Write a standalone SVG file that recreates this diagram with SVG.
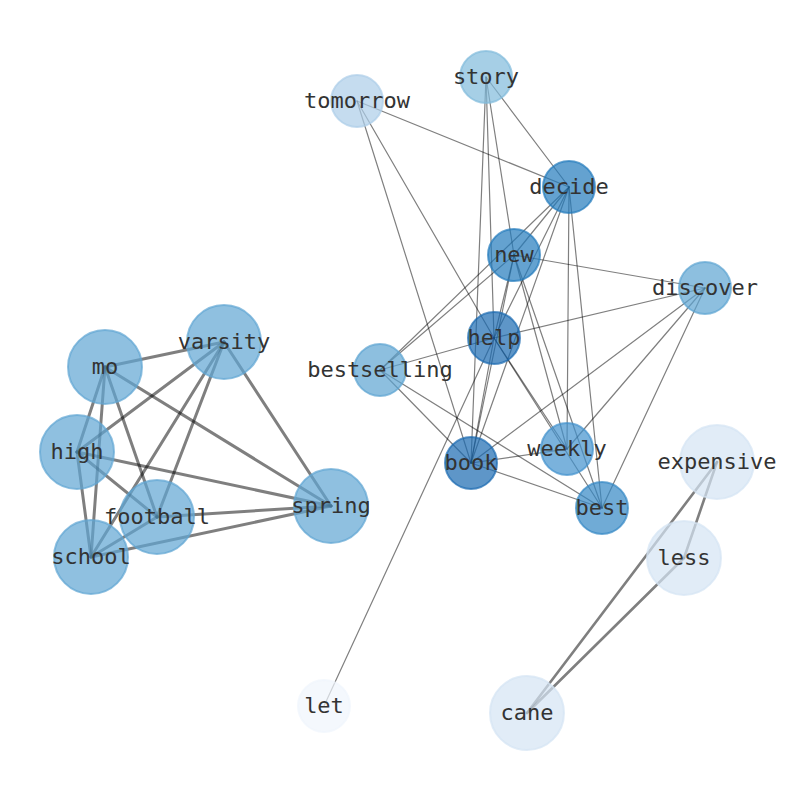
<svg xmlns="http://www.w3.org/2000/svg" width="794" height="790" viewBox="0 0 794 790">
<style>
.e{stroke:#000;stroke-opacity:0.5;fill:none;stroke-linecap:round}
.t{stroke-width:1.2}
.k{stroke-width:3}
.m{stroke-width:2.6}
.n{fill-opacity:0.7;stroke-opacity:0.7;stroke-width:2}
.l{font-family:"DejaVu Sans Mono","Liberation Mono",monospace;font-size:22px;fill:#333;text-anchor:middle}
</style>
<rect width="794" height="790" fill="#fff"/>
<g id="connectors">
<line class="e k" x1="105" y1="367" x2="224" y2="342"/>
<line class="e k" x1="105" y1="367" x2="77" y2="452"/>
<line class="e k" x1="105" y1="367" x2="157" y2="517"/>
<line class="e k" x1="105" y1="367" x2="91" y2="557"/>
<line class="e k" x1="105" y1="367" x2="331" y2="506"/>
<line class="e k" x1="224" y1="342" x2="77" y2="452"/>
<line class="e k" x1="224" y1="342" x2="157" y2="517"/>
<line class="e k" x1="224" y1="342" x2="91" y2="557"/>
<line class="e k" x1="224" y1="342" x2="331" y2="506"/>
<line class="e k" x1="77" y1="452" x2="157" y2="517"/>
<line class="e k" x1="77" y1="452" x2="91" y2="557"/>
<line class="e k" x1="77" y1="452" x2="331" y2="506"/>
<line class="e k" x1="157" y1="517" x2="91" y2="557"/>
<line class="e k" x1="157" y1="517" x2="331" y2="506"/>
<line class="e k" x1="91" y1="557" x2="331" y2="506"/>
<line class="e m" x1="717" y1="462" x2="684" y2="558"/>
<line class="e m" x1="717" y1="462" x2="527" y2="713"/>
<line class="e m" x1="684" y1="558" x2="527" y2="713"/>
<line class="e t" x1="357" y1="101" x2="569" y2="187"/>
<line class="e t" x1="357" y1="101" x2="494" y2="338"/>
<line class="e t" x1="357" y1="101" x2="471" y2="463"/>
<line class="e t" x1="486" y1="77" x2="569" y2="187"/>
<line class="e t" x1="486" y1="77" x2="514" y2="255"/>
<line class="e t" x1="486" y1="77" x2="494" y2="338"/>
<line class="e t" x1="486" y1="77" x2="471" y2="463"/>
<line class="e t" x1="569" y1="187" x2="514" y2="255"/>
<line class="e t" x1="569" y1="187" x2="380" y2="370"/>
<line class="e t" x1="569" y1="187" x2="494" y2="338"/>
<line class="e t" x1="569" y1="187" x2="471" y2="463"/>
<line class="e t" x1="569" y1="187" x2="567" y2="449"/>
<line class="e t" x1="569" y1="187" x2="602" y2="508"/>
<line class="e t" x1="514" y1="255" x2="705" y2="288"/>
<line class="e t" x1="514" y1="255" x2="380" y2="370"/>
<line class="e t" x1="514" y1="255" x2="494" y2="338"/>
<line class="e t" x1="514" y1="255" x2="471" y2="463"/>
<line class="e t" x1="514" y1="255" x2="567" y2="449"/>
<line class="e t" x1="514" y1="255" x2="602" y2="508"/>
<line class="e t" x1="705" y1="288" x2="494" y2="338"/>
<line class="e t" x1="705" y1="288" x2="471" y2="463"/>
<line class="e t" x1="705" y1="288" x2="567" y2="449"/>
<line class="e t" x1="705" y1="288" x2="602" y2="508"/>
<line class="e t" x1="494" y1="338" x2="380" y2="370"/>
<line class="e t" x1="494" y1="338" x2="471" y2="463"/>
<line class="e t" x1="494" y1="338" x2="567" y2="449"/>
<line class="e t" x1="494" y1="338" x2="602" y2="508"/>
<line class="e t" x1="494" y1="338" x2="324" y2="706"/>
<line class="e t" x1="380" y1="370" x2="471" y2="463"/>
<line class="e t" x1="380" y1="370" x2="602" y2="508"/>
<line class="e t" x1="471" y1="463" x2="567" y2="449"/>
<line class="e t" x1="471" y1="463" x2="602" y2="508"/>
</g>
<g id="node-tomorrow"><circle class="n" cx="357" cy="101" r="26" fill="#accde8" stroke="#accde8"/><text class="l" x="357" y="108">tomorrow</text></g>
<g id="node-story"><circle class="n" cx="486" cy="77" r="26" fill="#80badb" stroke="#80badb"/><text class="l" x="486" y="84">story</text></g>
<g id="node-decide"><circle class="n" cx="569" cy="187" r="26" fill="#227abc" stroke="#227abc"/><text class="l" x="569" y="194">decide</text></g>
<g id="node-new"><circle class="n" cx="514" cy="255" r="26" fill="#227abc" stroke="#227abc"/><text class="l" x="514" y="262">new</text></g>
<g id="node-discover"><circle class="n" cx="705" cy="288" r="26" fill="#5ca4d2" stroke="#5ca4d2"/><text class="l" x="705" y="295">discover</text></g>
<g id="node-help"><circle class="n" cx="494" cy="338" r="26" fill="#196ab0" stroke="#196ab0"/><text class="l" x="494" y="345">help</text></g>
<g id="node-bestselling"><circle class="n" cx="380" cy="370" r="26" fill="#5ca4d2" stroke="#5ca4d2"/><text class="l" x="380" y="377">bestselling</text></g>
<g id="node-book"><circle class="n" cx="471" cy="463" r="26" fill="#196ab0" stroke="#196ab0"/><text class="l" x="471" y="470">book</text></g>
<g id="node-weekly"><circle class="n" cx="567" cy="449" r="26" fill="#4192cd" stroke="#4192cd"/><text class="l" x="567" y="456">weekly</text></g>
<g id="node-best"><circle class="n" cx="602" cy="508" r="26" fill="#3387c4" stroke="#3387c4"/><text class="l" x="602" y="515">best</text></g>
<g id="node-let"><circle class="n" cx="324" cy="706" r="26" fill="#eff5fc" stroke="#eff5fc"/><text class="l" x="324" y="713">let</text></g>
<g id="node-expensive"><circle class="n" cx="717" cy="462" r="37" fill="#d4e4f4" stroke="#d4e4f4"/><text class="l" x="717" y="469">expensive</text></g>
<g id="node-less"><circle class="n" cx="684" cy="558" r="37" fill="#d4e4f4" stroke="#d4e4f4"/><text class="l" x="684" y="565">less</text></g>
<g id="node-cane"><circle class="n" cx="527" cy="713" r="37" fill="#d4e4f4" stroke="#d4e4f4"/><text class="l" x="527" y="720">cane</text></g>
<g id="node-mo"><circle class="n" cx="105" cy="367" r="37" fill="#5fa5d3" stroke="#5fa5d3"/><text class="l" x="105" y="374">mo</text></g>
<g id="node-varsity"><circle class="n" cx="224" cy="342" r="37" fill="#5fa5d3" stroke="#5fa5d3"/><text class="l" x="224" y="349">varsity</text></g>
<g id="node-high"><circle class="n" cx="77" cy="452" r="37" fill="#5fa5d3" stroke="#5fa5d3"/><text class="l" x="77" y="459">high</text></g>
<g id="node-football"><circle class="n" cx="157" cy="517" r="37" fill="#5fa5d3" stroke="#5fa5d3"/><text class="l" x="157" y="524">football</text></g>
<g id="node-school"><circle class="n" cx="91" cy="557" r="37" fill="#5fa5d3" stroke="#5fa5d3"/><text class="l" x="91" y="564">school</text></g>
<g id="node-spring"><circle class="n" cx="331" cy="506" r="37" fill="#5fa5d3" stroke="#5fa5d3"/><text class="l" x="331" y="513">spring</text></g>
</svg>
